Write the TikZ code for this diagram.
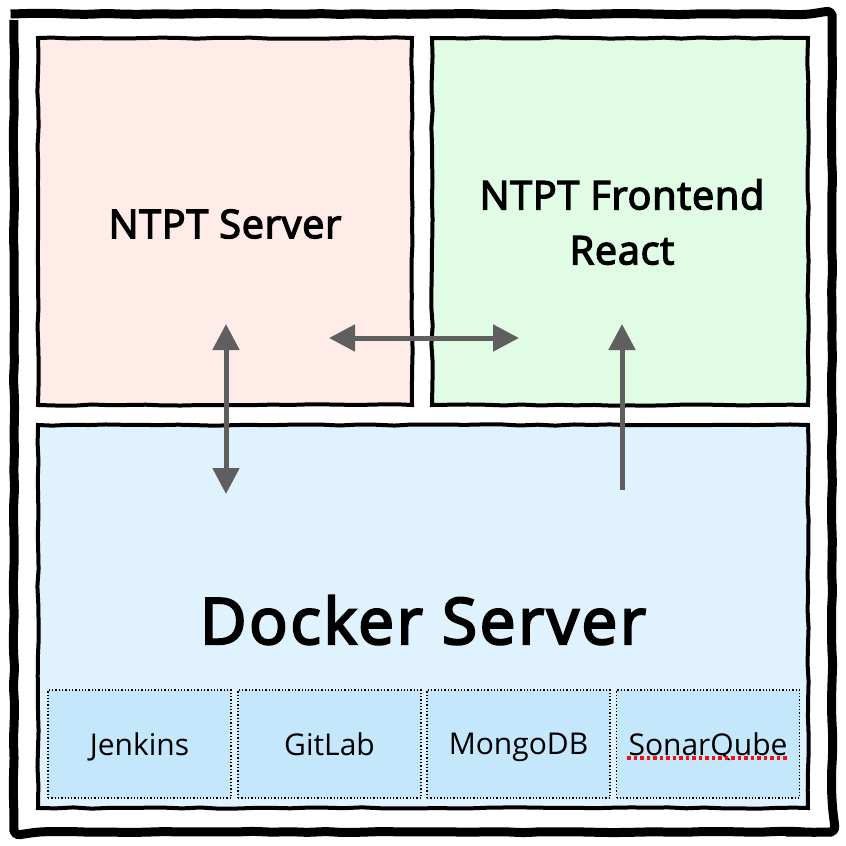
\documentclass[tikz,border=0pt]{standalone}
\usepackage{fontspec}
\setmainfont{Open Sans}
\newfontfamily\semib[FakeBold=3.5,LetterSpace=2]{Open Sans}
\newfontfamily\semibwide[FakeBold=3.5,LetterSpace=4]{Open Sans}
\usetikzlibrary{arrows.meta,decorations.pathmorphing}
\definecolor{pinkfill}{HTML}{FFECE9}
\definecolor{greenfill}{HTML}{E0FCE4}
\definecolor{bluefill}{HTML}{E0F2FE}
\definecolor{svcfill}{HTML}{C4E7FC}
\definecolor{arrowgray}{HTML}{5F5F5F}
\definecolor{spellred}{HTML}{F01010}
\tikzset{
  rough/.style={decorate,decoration={random steps,segment length=18pt,amplitude=0.7pt}},
  frame/.style={draw=black,line width=9pt,rounded corners=6pt,rough},
  panel/.style={draw=black,line width=4pt,rough},
  svc/.style={draw=black,dotted,line width=1.3pt,fill=svcfill,minimum width=183pt,minimum height=108pt,inner sep=0pt,text depth=0pt,font=\fontsize{30}{34}\selectfont},
  link/.style={draw=arrowgray,line width=5pt},
  tip/.style={-{Triangle[width=26pt,length=26pt]}},
  tips/.style={{Triangle[width=26pt,length=26pt]}-{Triangle[width=26pt,length=26pt]}},
}
\begin{document}
\begin{tikzpicture}[x=1pt,y=-1pt]
\useasboundingbox (0,0) rectangle (846,846);
\fill[white] (0,0) rectangle (846,846);
% outer frame
\draw[frame] (14,14) rectangle (832,832);
% panels
\fill[pinkfill] (38,38) rectangle (412,405);
\draw[panel] (38,38) rectangle (412,405);
\fill[greenfill] (432,38) rectangle (808,405);
\draw[panel] (432,38) rectangle (808,405);
\fill[bluefill] (38,425) rectangle (808,808);
\draw[panel] (38,425) rectangle (808,808);
% labels
\node[font=\semib\fontsize{39.5}{45}\selectfont] (server) at (225,224) {NTPT Server};
\node[font=\semib\fontsize{39.5}{55}\selectfont,align=center] (front) at (622,222) {NTPT Frontend\\React};
\node[font=\semibwide\fontsize{64}{70}\selectfont] (docker) at (423,620) {Docker Server};
% services
\node[svc] (jenkins) at (139.5,744) {Jenkins};
\node[svc] (gitlab) at (329.5,744) {GitLab};
\node[svc] (mongo) at (518.5,744) {MongoDB};
\node[svc] (sonar) at (708,744) {SonarQube};
\draw[spellred,line width=3.5pt,dash pattern=on 3.5pt off 3pt] ([xshift=-81pt,yshift=-14pt]sonar.center) -- ([xshift=81pt,yshift=-14pt]sonar.center);
% arrow endpoints
\coordinate (sv1) at (226,324);
\coordinate (sv2) at (226,494);
\coordinate (h1) at (329,338);
\coordinate (h2) at (519,338);
\coordinate (f1) at (622,490);
\coordinate (f2) at (622,324);
\draw[link,tips] (sv1) -- (sv2);
\draw[link,tips] (h1) -- (h2);
\draw[link,tip] (f1) -- (f2);
\end{tikzpicture}
\end{document}
